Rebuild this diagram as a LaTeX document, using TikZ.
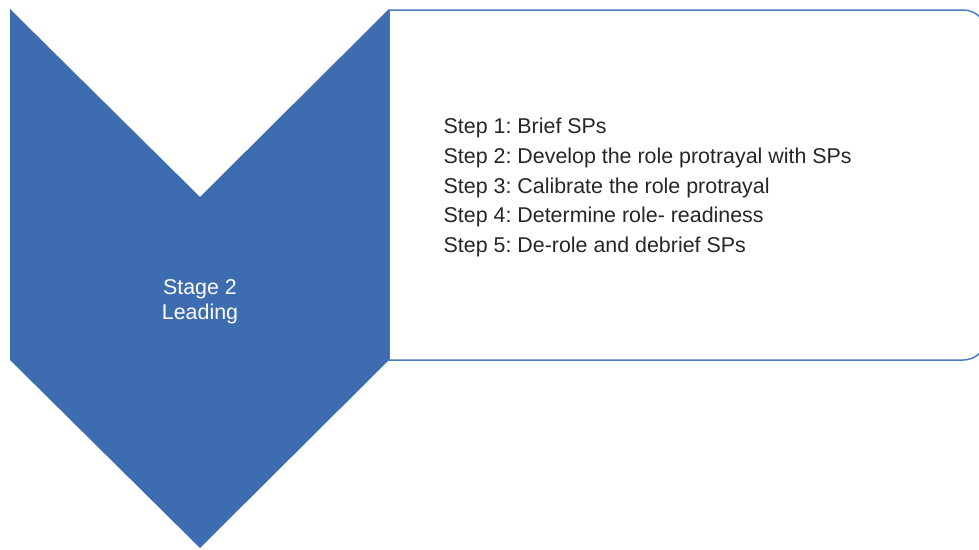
\documentclass[tikz,border=0pt]{standalone}
\usepackage{fontspec}
\setmainfont{Liberation Sans}
\frenchspacing
\definecolor{chevronblue}{HTML}{3D6CB0}
\definecolor{frameblue}{HTML}{4A7CC0}
\begin{document}
\begin{tikzpicture}[x=1pt,y=-1pt,
  steptext/.style={anchor=west,inner sep=0pt,align=left,text=black!85,font=\fontsize{21.4}{29.7}\selectfont},
  stagetext/.style={inner sep=0pt,align=center,text=white,font=\fontsize{21.4}{25}\selectfont}]
\useasboundingbox (0,0) rectangle (979,549);
\clip (0,0) rectangle (979,549);
% content panel with rounded right-hand corners
\draw[frameblue,line width=1.5pt,fill=white]
  (389,10) -- (963,10) [rounded corners=24pt] -- (987,10) -- (987,360) [sharp corners] -- (963,360) -- (389,360) -- cycle;
% downward chevron
\fill[chevronblue] (10,9) -- (200,197) -- (389,9) -- (389,360) -- (200,548) -- (10,360) -- cycle;
\node[stagetext] (stage) at (200,301.5) {Stage 2\\Leading};
\node[steptext] (steps) at (443.5,187.5) {Step 1: Brief SPs\\
Step 2: Develop the role protrayal with SPs\\
Step 3: Calibrate the role protrayal\\
Step 4: Determine role- readiness\\
Step 5: De-role and debrief SPs};
\end{tikzpicture}
\end{document}
